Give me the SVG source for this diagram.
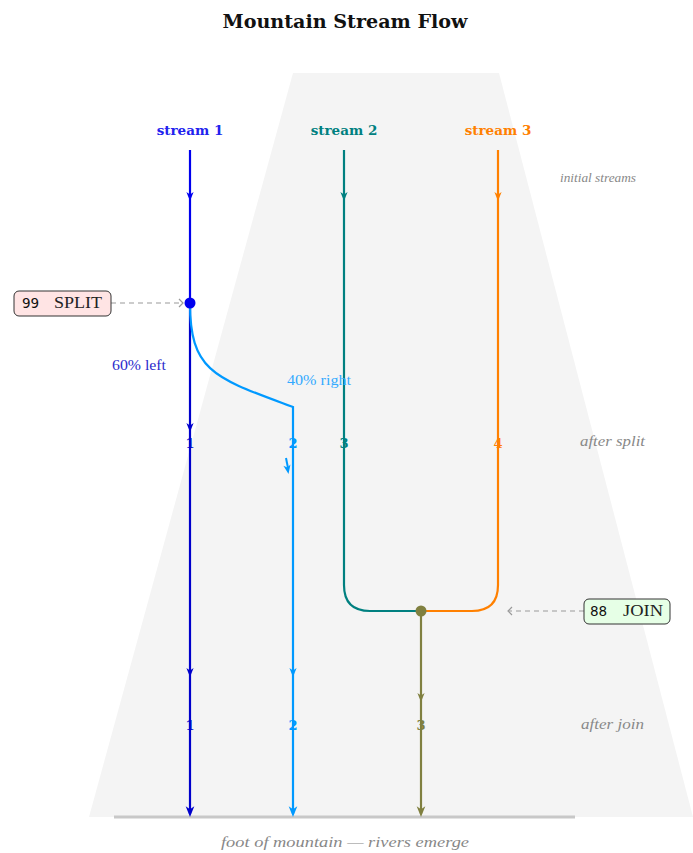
<svg xmlns="http://www.w3.org/2000/svg" width="693" height="853" viewBox="0 0 693 853">
<style>
.title{font-family:"DejaVu Serif",serif;font-weight:bold;font-size:18px;fill:#111}
.hdr{font-family:"DejaVu Serif",serif;font-weight:bold;font-size:13.5px}
.side{font-family:"Liberation Serif",serif;font-style:italic;font-size:14px;fill:#888}
.pct{font-family:"Liberation Serif",serif;font-size:14px}
.num{font-family:"DejaVu Serif",serif;font-weight:bold;font-size:13px}
.box{stroke:#333;stroke-width:1}
.bn{font-family:"DejaVu Sans","Liberation Sans",sans-serif;font-size:13.5px;fill:#111}
.bl{font-family:"Liberation Serif",serif;font-size:16px;fill:#222}
.s{fill:none;stroke-width:2.2}
.dash{fill:none;stroke:#999;stroke-width:1.2;stroke-dasharray:5,4}
</style>
<defs>
<path id="ah" d="M0,0 L-3.6,-9 L0,-6.5 L3.6,-9 Z"/>
<path id="chev" d="M-4,-4 L0,0 L-4,4" fill="none" stroke="#999" stroke-width="1.2"/>
</defs>
<text class="title" x="345" y="28" text-anchor="middle" textLength="245" lengthAdjust="spacingAndGlyphs">Mountain Stream Flow</text>
<g id="mountain">
<polygon points="293,73 499,73 693,817 89,817" fill="#f4f4f4"/>
<line x1="114" y1="817" x2="575" y2="817" stroke="#c8c8c8" stroke-width="3"/>
<text class="side" x="221" y="847" textLength="248" lengthAdjust="spacingAndGlyphs" style="font-size:15px">foot of mountain — rivers emerge</text>
</g>
<g id="side-labels">
<text class="side" x="560" y="182" textLength="76" lengthAdjust="spacingAndGlyphs" style="font-size:13px">initial streams</text>
<text class="side" x="580" y="446" textLength="65" lengthAdjust="spacingAndGlyphs">after split</text>
<text class="side" x="581" y="729" textLength="63" lengthAdjust="spacingAndGlyphs">after join</text>
</g>
<g id="headers">
<text class="hdr" x="190" y="135" text-anchor="middle" fill="#2222ee">stream 1</text>
<text class="hdr" x="344" y="135" text-anchor="middle" fill="#008080">stream 2</text>
<text class="hdr" x="498" y="135" text-anchor="middle" fill="#ff8000">stream 3</text>
</g>
<g id="connectors">
<path class="s" d="M190,150 L190,303" stroke="#0000ee"/>
<path class="s" d="M190,303 L190,814" stroke="#0000cc"/>
<path class="s" d="M190,303 C190,372 215,378 293,407 L293,814" stroke="#0099ff"/>
<path class="s" d="M344,150 L344,585 Q344,611 370,611 L421,611" stroke="#008080"/>
<path class="s" d="M498,150 L498,585 Q498,611 472,611 L421,611" stroke="#ff8000"/>
<path class="s" d="M421,611 L421,814" stroke="#808040"/>
<path d="M286,458 L288,468" stroke="#0099ff" stroke-width="2" fill="none"/>
<g fill="#0000ee"><use href="#ah" transform="translate(190,201)"/></g>
<g fill="#008080"><use href="#ah" transform="translate(344,201)"/></g>
<g fill="#ff8000"><use href="#ah" transform="translate(498,201)"/></g>
<g fill="#0000cc"><use href="#ah" transform="translate(190,432)"/><use href="#ah" transform="translate(190,677)"/><use href="#ah" transform="translate(190,817) scale(1.2)"/></g>
<g fill="#0099ff"><use href="#ah" transform="translate(293,677)"/><use href="#ah" transform="translate(293,817) scale(1.2)"/><use href="#ah" transform="translate(288.5,474) rotate(-10)"/></g>
<g fill="#808040"><use href="#ah" transform="translate(421,702)"/><use href="#ah" transform="translate(421,817) scale(1.2)"/></g>
<path class="dash" d="M111,303 L183,303"/>
<use href="#chev" transform="translate(183,303)"/>
<path class="dash" d="M584,611 L509,611"/>
<use href="#chev" transform="translate(508,611) rotate(180)"/>
</g>
<g id="split-node">
<circle cx="190" cy="303" r="5.5" fill="#0000ee"/>
<text class="pct" x="112" y="370" textLength="54" lengthAdjust="spacingAndGlyphs" fill="#2a2acc">60% left</text>
<text class="pct" x="287" y="385" textLength="64" lengthAdjust="spacingAndGlyphs" fill="#33aaff">40% right</text>
</g>
<g id="join-node">
<circle cx="421" cy="611" r="5.5" fill="#808040"/>
</g>
<g id="numbers">
<text class="num" x="190" y="448" text-anchor="middle" fill="#0000cc">1</text>
<text class="num" x="293" y="448" text-anchor="middle" fill="#0099ff">2</text>
<text class="num" x="344" y="448" text-anchor="middle" fill="#008080">3</text>
<text class="num" x="498" y="448" text-anchor="middle" fill="#ff8000">4</text>
<text class="num" x="190" y="730" text-anchor="middle" fill="#0000cc">1</text>
<text class="num" x="293" y="730" text-anchor="middle" fill="#0099ff">2</text>
<text class="num" x="421" y="730" text-anchor="middle" fill="#808040">3</text>
</g>
<g id="split-box">
<rect class="box" x="14" y="291" width="97" height="25" rx="5" fill="#ffe4e4"/>
<text class="bn" x="22" y="308">99</text>
<text class="bl" x="54" y="308" textLength="48" lengthAdjust="spacingAndGlyphs">SPLIT</text>
</g>
<g id="join-box">
<rect class="box" x="584" y="599" width="86" height="25" rx="5" fill="#e6ffe6"/>
<text class="bn" x="590" y="616">88</text>
<text class="bl" x="623" y="616" textLength="40" lengthAdjust="spacingAndGlyphs">JOIN</text>
</g>
</svg>
